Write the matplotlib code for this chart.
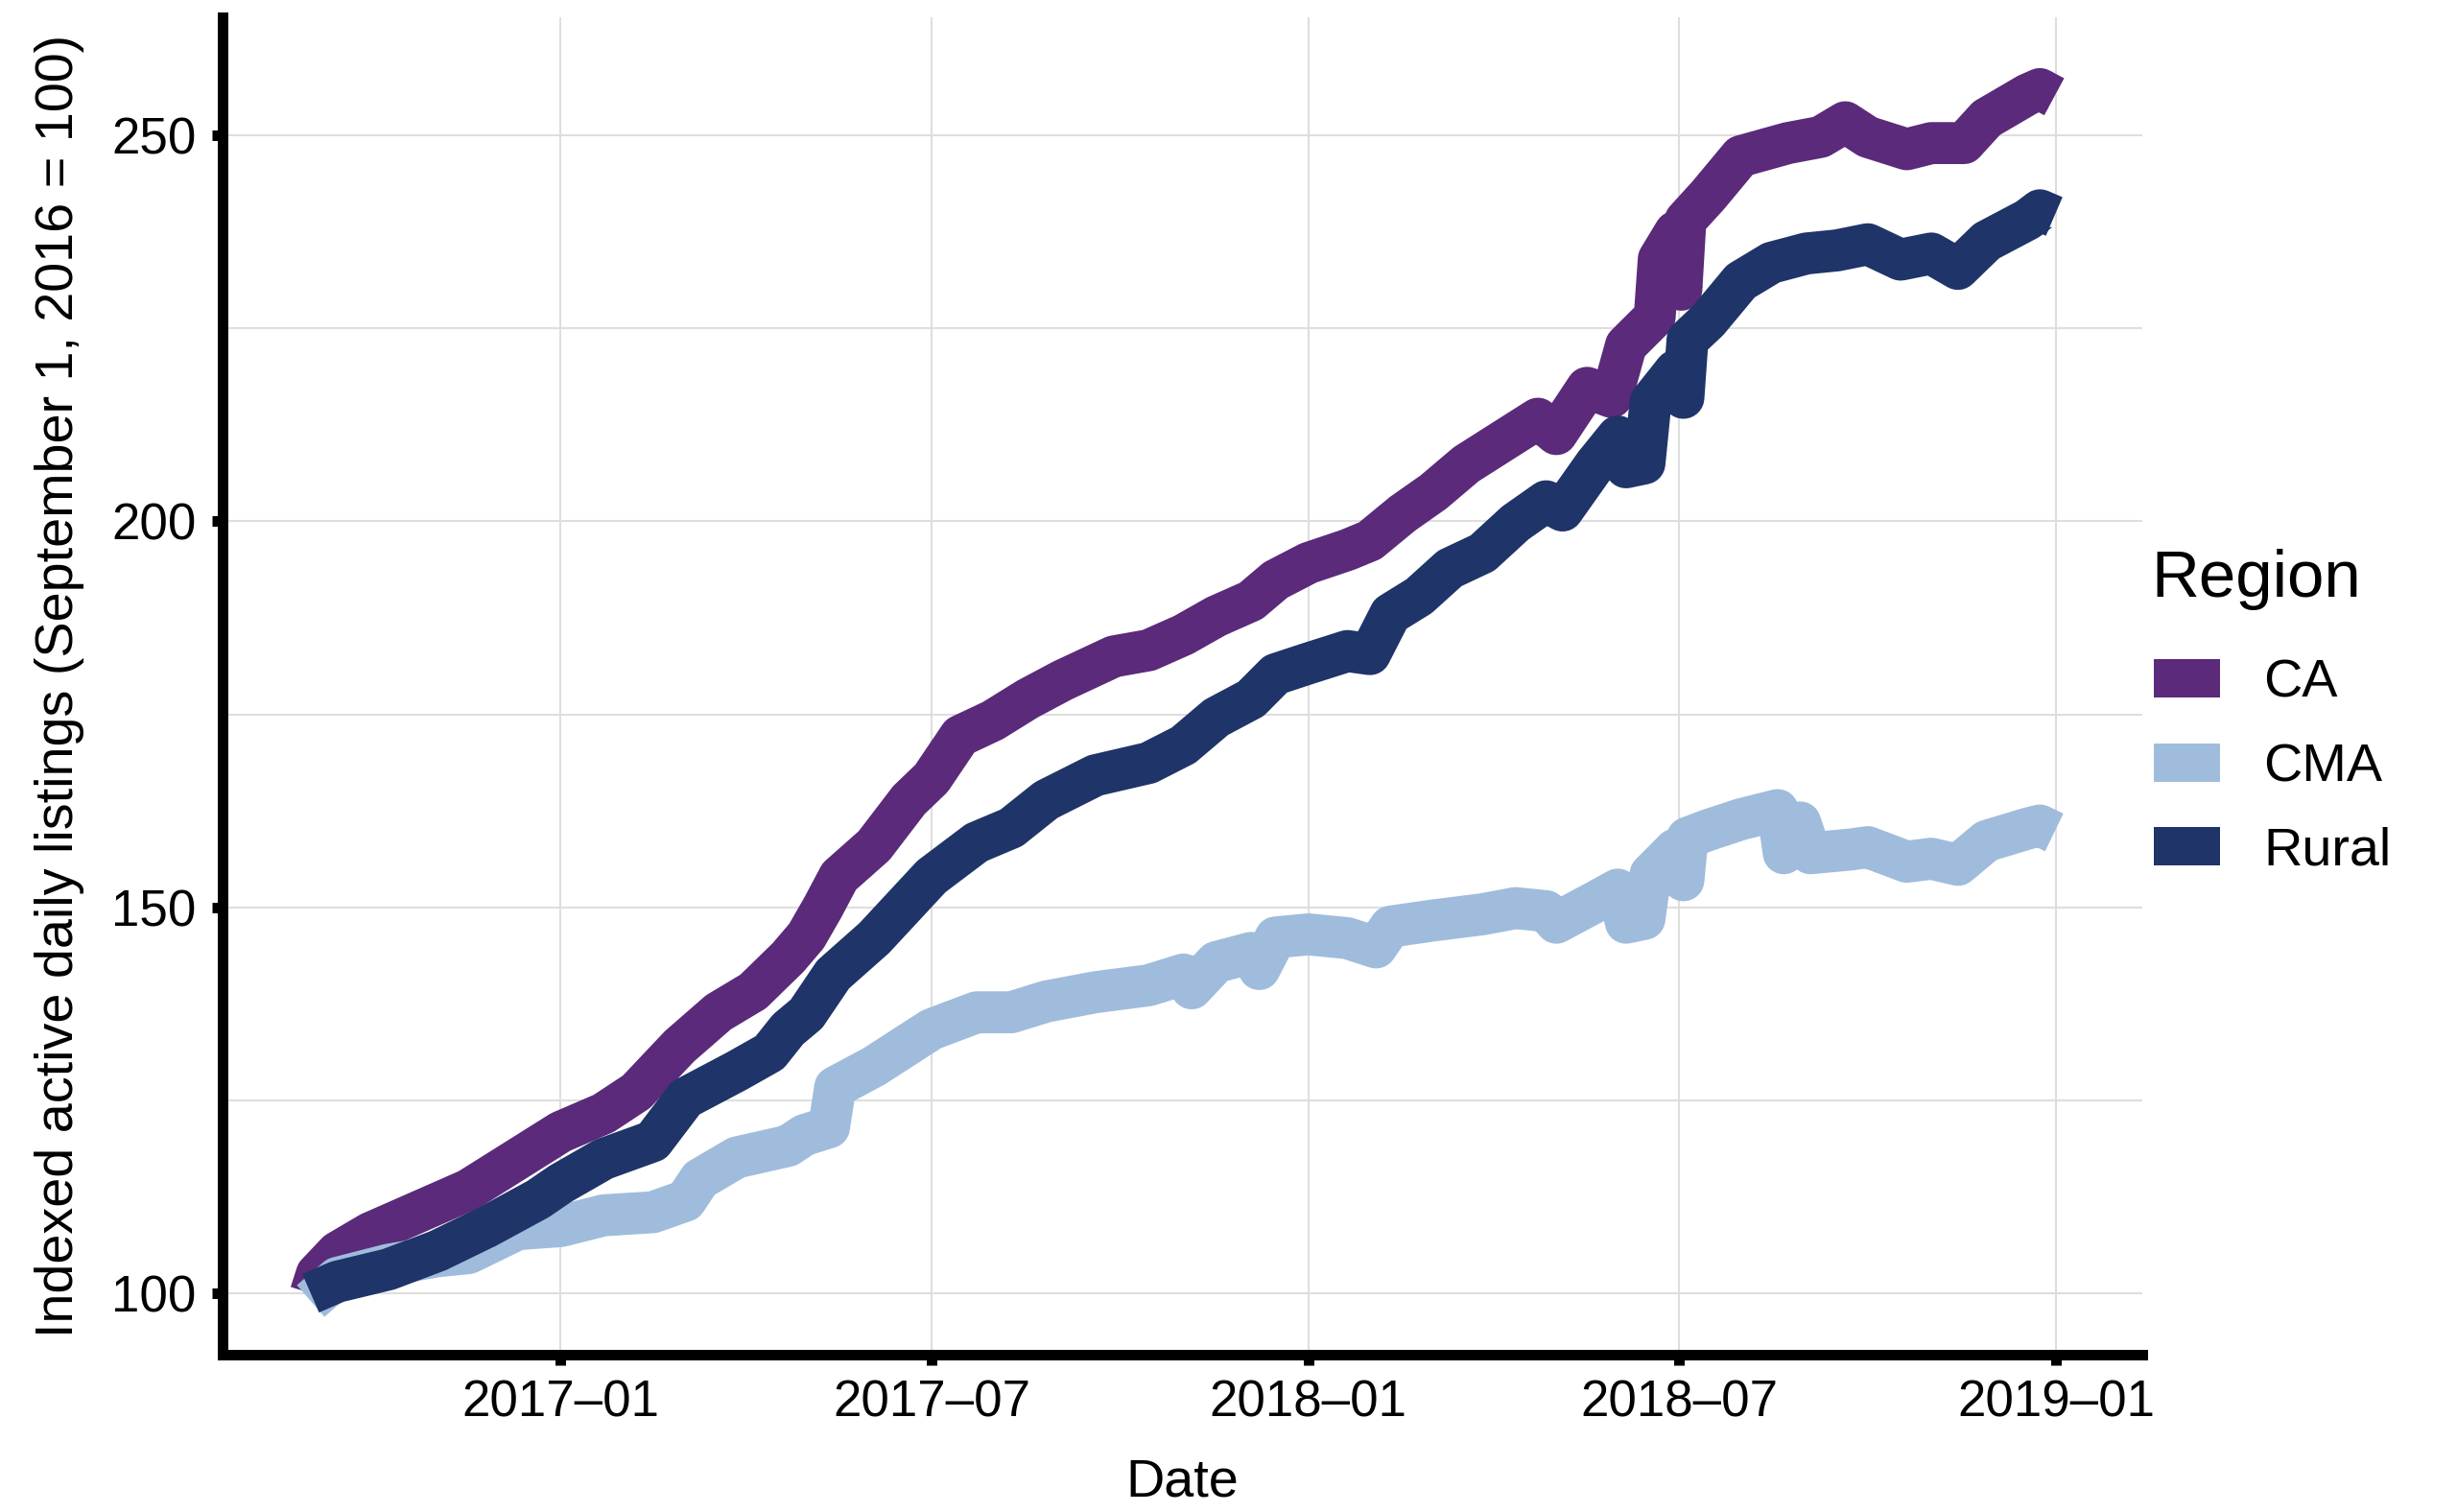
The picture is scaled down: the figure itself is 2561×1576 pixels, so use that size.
import matplotlib
matplotlib.use("Agg")
import matplotlib.pyplot as plt
from matplotlib.lines import Line2D
import pandas as pd

plt.rcParams['font.family'] = ['Liberation Sans', 'DejaVu Sans']

# data (index, September 1 2016 = 100)
ca_dates = ["2016-09-01", "2016-09-04", "2016-09-14", "2016-09-30", "2016-10-24", "2016-11-17",
            "2016-12-11", "2017-01-01", "2017-01-22", "2017-02-07", "2017-02-28", "2017-03-19",
            "2017-04-05", "2017-04-22", "2017-05-01", "2017-05-09", "2017-05-17", "2017-06-03",
            "2017-06-20", "2017-07-01", "2017-07-15", "2017-07-31", "2017-08-17", "2017-09-03",
            "2017-09-28", "2017-10-15", "2017-11-01", "2017-11-17", "2017-12-04", "2017-12-16",
            "2018-01-01", "2018-01-20", "2018-01-31", "2018-02-16", "2018-03-03", "2018-03-19",
            "2018-04-04", "2018-04-23", "2018-05-02", "2018-05-17", "2018-05-29", "2018-06-05",
            "2018-06-19", "2018-06-21", "2018-06-29", "2018-07-02", "2018-07-04", "2018-07-15",
            "2018-07-31", "2018-08-23", "2018-09-08", "2018-09-20", "2018-10-01", "2018-10-20",
            "2018-11-01", "2018-11-17", "2018-11-28", "2018-12-18", "2018-12-24", "2018-12-31"]
ca_vals = [100, 102.5, 105.3, 107.8, 110.6, 113.4,
           117.4, 120.9, 123.3, 126.1, 132, 136.4,
           139.1, 143.5, 146.3, 150, 154, 158,
           163.9, 166.7, 172.2, 174.2, 177, 179.4,
           182.5, 183.3, 185.3, 187.7, 189.7, 192.4,
           194.6, 196.3, 197.5, 201, 203.8, 207.4,
           210.1, 213.3, 211.3, 217.3, 216.1, 222.8,
           226.5, 234, 237.5, 230, 239, 242.2,
           247.3, 249, 249.8, 251.7, 249.8, 248.2,
           249, 249, 252.2, 255.3, 256, 255]

cma_dates = ["2016-09-01", "2016-09-14", "2016-10-09", "2016-11-02", "2016-11-17", "2016-12-11",
             "2017-01-01", "2017-01-22", "2017-02-15", "2017-03-03", "2017-03-10", "2017-03-28",
             "2017-04-22", "2017-04-30", "2017-05-12", "2017-05-15", "2017-06-03", "2017-07-01",
             "2017-07-23", "2017-08-09", "2017-08-26", "2017-09-19", "2017-10-15", "2017-11-01",
             "2017-11-05", "2017-11-17", "2017-12-04", "2017-12-08", "2017-12-16", "2018-01-01",
             "2018-01-20", "2018-02-03", "2018-02-10", "2018-03-03", "2018-03-27", "2018-04-12",
             "2018-04-27", "2018-05-02", "2018-05-21", "2018-06-01", "2018-06-05", "2018-06-14",
             "2018-06-17", "2018-06-29", "2018-07-03", "2018-07-05", "2018-07-15", "2018-07-31",
             "2018-08-18", "2018-08-21", "2018-08-29", "2018-09-03", "2018-09-23", "2018-10-01",
             "2018-10-20", "2018-11-01", "2018-11-14", "2018-11-28", "2018-12-18", "2018-12-24",
             "2018-12-31"]
cma_vals = [99, 102, 103.7, 104.8, 105.2, 108.3,
            108.7, 110.1, 110.5, 112, 114.8, 117.6,
            119.1, 120.5, 121.5, 126.7, 129.4, 134.2,
            136.4, 136.4, 137.8, 139, 139.9, 141.3,
            139.5, 142.9, 144.1, 142, 146.1, 146.5,
            146, 144.8, 147.5, 148.3, 149.1, 149.9,
            149.5, 148, 150.7, 152.3, 148, 148.5,
            154.3, 157.5, 153.5, 159, 160, 161.4,
            162.6, 157, 161, 157, 157.5, 157.8,
            155.9, 156.3, 155.5, 158.6, 160.2, 160.6,
            159.7]

rural_dates = ["2016-09-01", "2016-09-14", "2016-10-09", "2016-11-02", "2016-11-26", "2016-12-21",
               "2017-01-01", "2017-01-22", "2017-02-15", "2017-03-03", "2017-03-28", "2017-04-13",
               "2017-04-22", "2017-05-01", "2017-05-14", "2017-06-03", "2017-07-01", "2017-07-23",
               "2017-08-09", "2017-08-26", "2017-09-19", "2017-10-15", "2017-11-01", "2017-11-17",
               "2017-12-04", "2017-12-16", "2018-01-01", "2018-01-20", "2018-01-31", "2018-02-10",
               "2018-02-24", "2018-03-11", "2018-03-27", "2018-04-12", "2018-04-27", "2018-05-05",
               "2018-05-21", "2018-06-01", "2018-06-05", "2018-06-14", "2018-06-17", "2018-06-29",
               "2018-07-03", "2018-07-05", "2018-07-15", "2018-07-31", "2018-08-15", "2018-09-01",
               "2018-09-16", "2018-10-01", "2018-10-17", "2018-11-01", "2018-11-14", "2018-11-28",
               "2018-12-18", "2018-12-24", "2018-12-31"]
rural_vals = [100, 101.5, 103.1, 105.5, 108.6, 112.2,
              114.2, 117.4, 119.7, 125.3, 128.8, 131.2,
              134.2, 136.2, 141.3, 146, 154, 158.4,
              160.3, 163.9, 167.1, 168.7, 171, 174.6,
              177, 180.2, 181.6, 183.2, 182.8, 188,
              190.3, 193.9, 195.9, 199.8, 202.6, 201.4,
              207.4, 211, 207, 207.5, 215.5, 219.5,
              216, 223.5, 226, 231.1, 233.5, 234.7,
              235.1, 235.9, 233.9, 234.7, 232.7, 236.3,
              239.1, 240.3, 239.5]

regions = ["CA", "CMA", "Rural"]
colors = {"CA": "#5B2A7A", "CMA": "#A0BCDC", "Rural": "#1F3468"}
series = {"CA": (ca_dates, ca_vals), "CMA": (cma_dates, cma_vals), "Rural": (rural_dates, rural_vals)}

W, H, DPI = 2561, 1576, 300
fig = plt.figure(figsize=(W / DPI, H / DPI), dpi=DPI)
ax = fig.add_axes([232 / W, 1 - 1412 / H, (2233 - 232) / W, (1412 - 18) / H])

LW = 10.5
for r in regions:
    d, v = series[r]
    ax.plot(pd.to_datetime(d), v, color=colors[r], lw=LW,
            solid_capstyle="butt", solid_joinstyle="round")

ax.set_xlim(pd.Timestamp("2016-07-20"), pd.Timestamp("2019-02-12"))
ax.set_ylim(92.05, 265.3)

ax.set_yticks([100, 150, 200, 250])
ax.set_yticks([125, 175, 225], minor=True)
xt = pd.to_datetime(["2017-01-01", "2017-07-01", "2018-01-01", "2018-07-01", "2019-01-01"])
ax.set_xticks(xt)
ax.set_xticklabels([t.strftime("%Y\u2013%m") for t in xt])

for s in ["top", "right"]:
    ax.spines[s].set_visible(False)
for s in ["left", "bottom"]:
    ax.spines[s].set_linewidth(2.64)
    ax.spines[s].set_color("black")

ax.tick_params(axis="both", which="major", length=2.6, width=2.64, labelsize=12.7, colors="black")
ax.tick_params(axis="y", which="major", pad=4)
ax.tick_params(axis="x", which="major", pad=3.6)
ax.tick_params(axis="y", which="minor", length=0)
ax.grid(True, which="major", color="#DEDEDE", lw=0.5)
ax.grid(True, which="minor", axis="y", color="#DEDEDE", lw=0.5)
ax.set_axisbelow(True)

fig.text(62 / W, 1 - 715 / H, "Indexed active daily listings (September 1, 2016 = 100)",
         rotation=90, ha="center", va="center", fontsize=13.4)
fig.text(1232 / W, 1 - 1560 / H, "Date", ha="center", va="baseline", fontsize=13.4)

# legend
fig.text(2242 / W, 1 - 622 / H, "Region", ha="left", va="baseline", fontsize=16.6)
handles = [Line2D([0], [0], color=colors[r], lw=9.6, solid_capstyle="butt") for r in regions]
ax.legend(handles, regions, loc="upper left", bbox_to_anchor=(2245 / W, 1 - 687 / H),
          bbox_transform=fig.transFigure, frameon=False, fontsize=13.4,
          handlelength=1.23, handletextpad=0.82, labelspacing=0.63,
          borderpad=0, borderaxespad=0)

fig.savefig("out.png", dpi=DPI)
